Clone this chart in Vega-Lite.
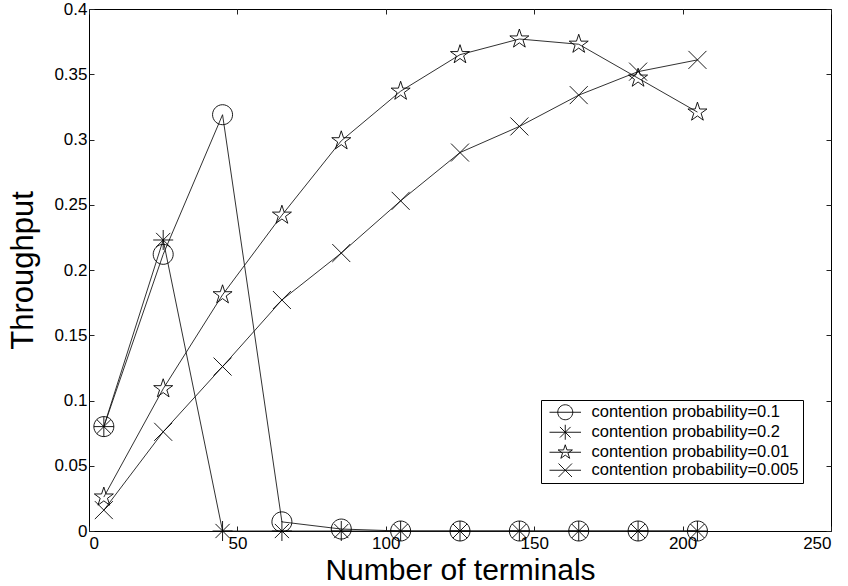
{
  "$schema": "https://vega.github.io/schema/vega-lite/v6.json",
  "width": 742,
  "height": 522,
  "autosize": {"type": "none"},
  "padding": {"left": 89, "top": 9, "right": 17, "bottom": 55},
  "background": "white",
  "config": {
    "font": "Liberation Sans",
    "view": {"stroke": "#000", "strokeWidth": 1},
    "axis": {
      "domain": false,
      "grid": false,
      "tickSize": -5,
      "tickColor": "#222",
      "tickWidth": 1,
      "labelFont": "Liberation Sans",
      "labelFontSize": 17,
      "labelColor": "#000",
      "titleFont": "Liberation Sans",
      "titleFontSize": 31,
      "titleFontWeight": "normal",
      "titleColor": "#000"
    }
  },
  "data": {
    "values": [
      {"n": 5, "throughput": 0.080, "series": "contention probability=0.1"},
      {"n": 25, "throughput": 0.212, "series": "contention probability=0.1"},
      {"n": 45, "throughput": 0.319, "series": "contention probability=0.1"},
      {"n": 65, "throughput": 0.007, "series": "contention probability=0.1"},
      {"n": 85, "throughput": 0.0015, "series": "contention probability=0.1"},
      {"n": 105, "throughput": 0, "series": "contention probability=0.1"},
      {"n": 125, "throughput": 0, "series": "contention probability=0.1"},
      {"n": 145, "throughput": 0, "series": "contention probability=0.1"},
      {"n": 165, "throughput": 0, "series": "contention probability=0.1"},
      {"n": 185, "throughput": 0, "series": "contention probability=0.1"},
      {"n": 205, "throughput": 0, "series": "contention probability=0.1"},

      {"n": 5, "throughput": 0.080, "series": "contention probability=0.2"},
      {"n": 25, "throughput": 0.223, "series": "contention probability=0.2"},
      {"n": 45, "throughput": 0, "series": "contention probability=0.2"},
      {"n": 65, "throughput": 0, "series": "contention probability=0.2"},
      {"n": 85, "throughput": 0, "series": "contention probability=0.2"},
      {"n": 105, "throughput": 0, "series": "contention probability=0.2"},
      {"n": 125, "throughput": 0, "series": "contention probability=0.2"},
      {"n": 145, "throughput": 0, "series": "contention probability=0.2"},
      {"n": 165, "throughput": 0, "series": "contention probability=0.2"},
      {"n": 185, "throughput": 0, "series": "contention probability=0.2"},
      {"n": 205, "throughput": 0, "series": "contention probability=0.2"},

      {"n": 5, "throughput": 0.026, "series": "contention probability=0.01"},
      {"n": 25, "throughput": 0.109, "series": "contention probability=0.01"},
      {"n": 45, "throughput": 0.181, "series": "contention probability=0.01"},
      {"n": 65, "throughput": 0.242, "series": "contention probability=0.01"},
      {"n": 85, "throughput": 0.299, "series": "contention probability=0.01"},
      {"n": 105, "throughput": 0.337, "series": "contention probability=0.01"},
      {"n": 125, "throughput": 0.365, "series": "contention probability=0.01"},
      {"n": 145, "throughput": 0.377, "series": "contention probability=0.01"},
      {"n": 165, "throughput": 0.373, "series": "contention probability=0.01"},
      {"n": 185, "throughput": 0.347, "series": "contention probability=0.01"},
      {"n": 205, "throughput": 0.321, "series": "contention probability=0.01"},

      {"n": 5, "throughput": 0.016, "series": "contention probability=0.005"},
      {"n": 25, "throughput": 0.076, "series": "contention probability=0.005"},
      {"n": 45, "throughput": 0.126, "series": "contention probability=0.005"},
      {"n": 65, "throughput": 0.177, "series": "contention probability=0.005"},
      {"n": 85, "throughput": 0.213, "series": "contention probability=0.005"},
      {"n": 105, "throughput": 0.253, "series": "contention probability=0.005"},
      {"n": 125, "throughput": 0.290, "series": "contention probability=0.005"},
      {"n": 145, "throughput": 0.310, "series": "contention probability=0.005"},
      {"n": 165, "throughput": 0.334, "series": "contention probability=0.005"},
      {"n": 185, "throughput": 0.352, "series": "contention probability=0.005"},
      {"n": 205, "throughput": 0.361, "series": "contention probability=0.005"}
    ]
  },
  "layer": [
    {
      "mark": {"type": "line", "color": "#1a1a1a", "strokeWidth": 0.9},
      "encoding": {
        "x": {
          "field": "n", "type": "quantitative",
          "scale": {"domain": [0, 250], "nice": false, "zero": false},
          "axis": {"orient": "bottom", "values": [0, 50, 100, 150, 200, 250], "title": "Number of terminals", "labelPadding": 9, "titleFontSize": 30, "titleBaseline": "alphabetic", "titleY": 48}
        },
        "y": {
          "field": "throughput", "type": "quantitative",
          "scale": {"domain": [0, 0.4], "nice": false},
          "axis": {"orient": "left", "values": [0, 0.05, 0.1, 0.15, 0.2, 0.25, 0.3, 0.35, 0.4], "format": "~g", "title": "Throughput", "labelPadding": 7, "titlePadding": 14}
        },
        "detail": {"field": "series", "type": "nominal"},
        "order": {"field": "n", "type": "quantitative"}
      }
    },
    {
      "mark": {"type": "point", "filled": false, "color": "#000", "opacity": 1, "strokeWidth": 0.9, "size": 400},
      "encoding": {
        "x": {"field": "n", "type": "quantitative", "axis": null},
        "y": {"field": "throughput", "type": "quantitative", "axis": null},
        "shape": {
          "field": "series", "type": "nominal", "legend": null,
          "scale": {
            "domain": ["contention probability=0.1", "contention probability=0.2", "contention probability=0.01", "contention probability=0.005"],
            "range": [
              "M1,0A1,1 0 1,1 -1,0A1,1 0 1,1 1,0Z",
              "M-1,0L1,0M0,-1L0,1M-0.71,-0.71L0.71,0.71M-0.71,0.71L0.71,-0.71",
              "M0,-1L0.225,-0.309L0.951,-0.309L0.363,0.118L0.588,0.809L0,0.382L-0.588,0.809L-0.363,0.118L-0.951,-0.309L-0.225,-0.309Z",
              "M-0.9,-0.9L0.9,0.9M-0.9,0.9L0.9,-0.9"
            ]
          }
        }
      }
    },
    {
      "transform": [{"filter": "datum.n < 0"}],
      "mark": {"type": "point", "filled": false, "color": "#000", "opacity": 1, "strokeWidth": 0.9},
      "encoding": {
        "x": {"field": "n", "type": "quantitative", "axis": {"orient": "top", "values": [0, 50, 100, 150, 200, 250], "labels": false, "title": null}},
        "y": {"field": "throughput", "type": "quantitative", "axis": {"orient": "right", "values": [0, 0.05, 0.1, 0.15, 0.2, 0.25, 0.3, 0.35, 0.4], "labels": false, "title": null}},
        "shape": {
          "field": "series", "type": "nominal",
          "scale": {
            "domain": ["contention probability=0.1", "contention probability=0.2", "contention probability=0.01", "contention probability=0.005"],
            "range": [
              "M-2.1,0L2.1,0M1,0A1,1 0 1,1 -1,0A1,1 0 1,1 1,0Z",
              "M-2.1,0L2.1,0M0,-1L0,1M-0.71,-0.71L0.71,0.71M-0.71,0.71L0.71,-0.71",
              "M-2.1,0L2.1,0M0,-1L0.225,-0.309L0.951,-0.309L0.363,0.118L0.588,0.809L0,0.382L-0.588,0.809L-0.363,0.118L-0.951,-0.309L-0.225,-0.309Z",
              "M-2.1,0L2.1,0M-0.9,-0.9L0.9,0.9M-0.9,0.9L0.9,-0.9"
            ]
          },
          "legend": {
            "title": null,
            "orient": "none",
            "legendX": 452,
            "legendY": 391,
            "strokeColor": "#000",
            "fillColor": "#fff",
            "padding": 4,
            "cornerRadius": 0,
            "symbolSize": 225,
            "symbolStrokeColor": "#000",
            "symbolFillColor": "transparent",
            "symbolStrokeWidth": 0.9,
            "symbolOffset": 12,
            "labelOffset": 18,
            "labelLimit": 400,
            "labelFont": "Liberation Sans",
            "labelFontSize": 16.5,
            "labelColor": "#000",
            "rowPadding": 0
          }
        }
      }
    }
  ],
  "resolve": {
    "scale": {"shape": "independent"},
    "axis": {"x": "independent", "y": "independent"}
  }
}
